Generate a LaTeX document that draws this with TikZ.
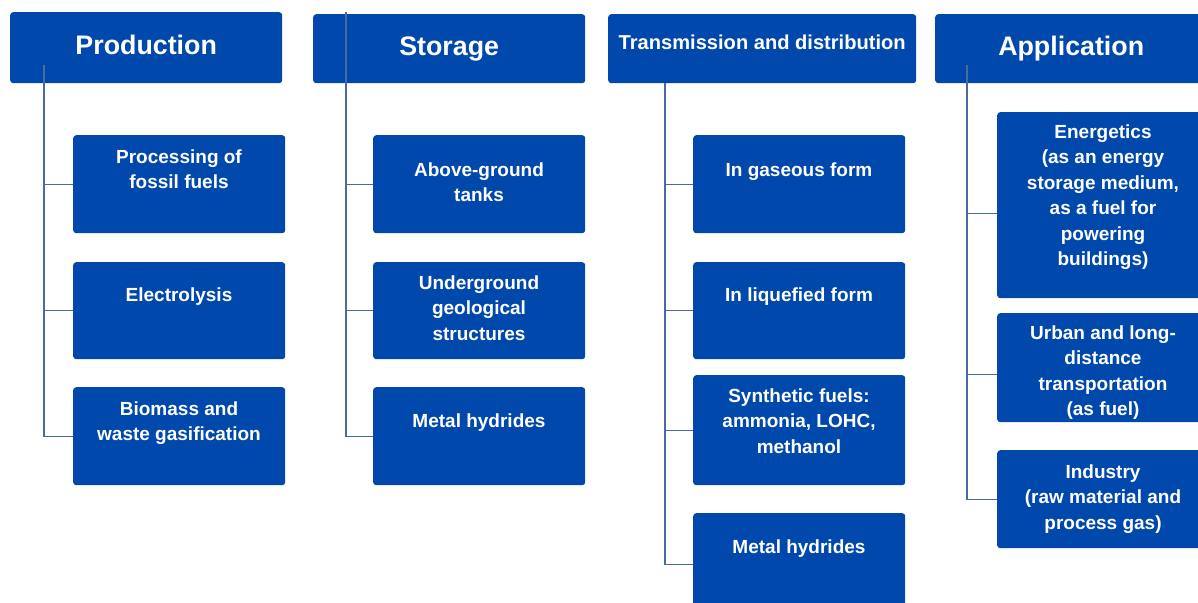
\documentclass[tikz,border=0pt]{standalone}
\usepackage{fontspec}
\setmainfont{Liberation Sans}
\definecolor{hblue}{RGB}{0,72,171}
\definecolor{hline}{RGB}{74,106,160}
\tikzset{
  head/.style={fill=hblue, text=white, rounded corners=3pt, anchor=north west, inner sep=0pt,
    minimum height=71pt, text depth=6pt, font=\fontsize{26.8}{30}\selectfont\bfseries},
  leaf/.style={fill=hblue, rounded corners=3pt, anchor=north west, inner sep=0pt, minimum width=212pt},
  ltext/.style={text=white, anchor=north, align=center, inner sep=0pt, font=\fontsize{19}{25.5}\selectfont\bfseries},
  link/.style={draw=hline, line width=1.3pt}
}
\begin{document}
\begin{tikzpicture}[x=1pt,y=-1pt]
\useasboundingbox (0,0) rectangle (1198,602);
% headers
\node [head, minimum width=272] (prod) at (10,12) {Production};
\node [head, minimum width=272, minimum height=69] (stor) at (313,14) {Storage};
\node [head, minimum width=308, minimum height=69, text depth=13pt, font=\fontsize{20.1}{24}\selectfont\bfseries] (trans) at (608,14) {Transmission and distribution};
\node [head, minimum width=272, minimum height=69] (appl) at (935,14) {Application};
% production
\node [leaf, minimum height=98] (proc) at (73,135) {};
\node [ltext] (proc-t) at (179,149.2) {Processing of\\fossil fuels};
\node [leaf, minimum height=97] (elec) at (73,262) {};
\node [ltext] (elec-t) at (179,287.2) {Electrolysis};
\node [leaf, minimum height=98] (biom) at (73,387) {};
\node [ltext] (biom-t) at (179,401.2) {Biomass and\\waste gasification};
% storage
\node [leaf, minimum height=98] (tank) at (373,135) {};
\node [ltext] (tank-t) at (479,162.2) {Above-ground\\tanks};
\node [leaf, minimum height=97] (geol) at (373,262) {};
\node [ltext] (geol-t) at (479,275.2) {Underground\\geological\\structures};
\node [leaf, minimum height=98] (mhs) at (373,387) {};
\node [ltext] (mhs-t) at (479,413.2) {Metal hydrides};
% transmission and distribution
\node [leaf, minimum height=98] (gas) at (693,135) {};
\node [ltext] (gas-t) at (799,162.2) {In gaseous form};
\node [leaf, minimum height=97] (liq) at (693,262) {};
\node [ltext] (liq-t) at (799,287.2) {In liquefied form};
\node [leaf, minimum height=110] (syn) at (693,375) {};
\node [ltext] (syn-t) at (799,388.2) {Synthetic fuels:\\ammonia, LOHC,\\methanol};
\node [leaf, minimum height=102] (mht) at (693,513) {};
\node [ltext] (mht-t) at (799,539.2) {Metal hydrides};
% application
\node [leaf, minimum height=186] (ener) at (997,112) {};
\node [ltext] (ener-t) at (1103,124.2) {Energetics\\(as an energy\\storage medium,\\as a fuel for\\powering\\buildings)};
\node [leaf, minimum height=109] (urb) at (997,313) {};
\node [ltext] (urb-t) at (1103,325.2) {Urban and long-\\distance\\transportation\\(as fuel)};
\node [leaf, minimum height=98] (ind) at (997,450) {};
\node [ltext] (ind-t) at (1103,464.2) {Industry\\(raw material and\\process gas)};
% connectors
\coordinate (prod-top) at (44,65);
\coordinate (stor-top) at (346,12);
\coordinate (trans-top) at (665,83);
\coordinate (appl-top) at (967,65);
\coordinate (ener-in) at ([yshift=-8pt]ener.west);
\coordinate (urb-in) at ([yshift=-6.5pt]urb.west);
\draw [link] (prod-top) |- (biom.west);
\draw [link] (prod-top |- proc.west) -- (proc.west);
\draw [link] (prod-top |- elec.west) -- (elec.west);
\draw [link] (stor-top) |- (mhs.west);
\draw [link] (stor-top |- tank.west) -- (tank.west);
\draw [link] (stor-top |- geol.west) -- (geol.west);
\draw [link] (trans-top) |- (mht.west);
\draw [link] (trans-top |- gas.west) -- (gas.west);
\draw [link] (trans-top |- liq.west) -- (liq.west);
\draw [link] (trans-top |- syn.west) -- (syn.west);
\draw [link] (appl-top) |- (ind.west);
\draw [link] (appl-top |- ener-in) -- (ener-in);
\draw [link] (appl-top |- urb-in) -- (urb-in);
\end{tikzpicture}
\end{document}
